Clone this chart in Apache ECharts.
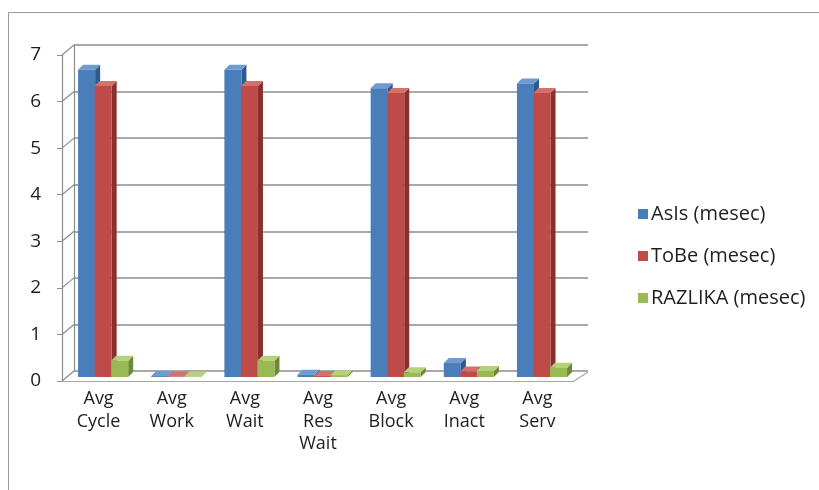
<!DOCTYPE html>
<html>
<head>
<meta charset="utf-8">
<script src="https://cdn.jsdelivr.net/npm/echarts@6/dist/echarts.min.js"></script>
<style>
  html, body { margin: 0; padding: 0; background: #fff; }
  #chart { width: 819px; height: 490px; }
</style>
</head>
<body>
<div id="chart"></div>
<script>
// Process time comparison, in months
const categories = ['Avg\nCycle', 'Avg\nWork', 'Avg\nWait', 'Avg\nRes\nWait', 'Avg\nBlock', 'Avg\nInact', 'Avg\nServ'];
const asIsValues = [6.6, 0.02, 6.6, 0.05, 6.2, 0.3, 6.3];
const toBeValues = [6.25, 0.01, 6.25, 0.02, 6.1, 0.12, 6.1];
const razlikaValues = [0.35, 0.01, 0.35, 0.04, 0.1, 0.13, 0.2];
const seriesNames = ['AsIs (mesec)', 'ToBe (mesec)', 'RAZLIKA (mesec)'];
const yTicks = [0, 1, 2, 3, 4, 5, 6, 7];

const FONT = 'Open Sans';
const palette = [
  { front: '#4A7EBB', side: '#2F5A8E', top: '#6F9BD2' },
  { front: '#BE4B48', side: '#8A2F2D', top: '#D4706D' },
  { front: '#98B954', side: '#6E8A36', top: '#B5D27A' }
];
// depth of the floor (back wall offset) and of each column
const WALL_DX = 12, WALL_DY = -10;
const BAR_DX = 5, BAR_DY = -5;

function barRenderer(seriesIdx) {
  const c = palette[seriesIdx];
  return function (params, api) {
    const idx = api.value(0);
    const val = api.value(1);
    const base = api.coord([idx, 0]);
    const topPt = api.coord([idx, val]);
    const band = api.size([1, 0])[0];
    const w = band * 0.233;
    const x0 = base[0] - band / 2 + band * 0.22 + seriesIdx * band * 0.226;
    const yb = base[1] - 4;
    const yt = topPt[1] - 4;
    const x1 = x0 + w;
    return {
      type: 'group',
      children: [
        { type: 'polygon', shape: { points: [[x1, yb], [x1 + BAR_DX, yb + BAR_DY], [x1 + BAR_DX, yt + BAR_DY], [x1, yt]] },
          style: { fill: c.side } },
        { type: 'polygon', shape: { points: [[x0, yt], [x1, yt], [x1 + BAR_DX, yt + BAR_DY], [x0 + BAR_DX, yt + BAR_DY]] },
          style: { fill: c.top } },
        { type: 'rect', shape: { x: x0, y: yt, width: w, height: Math.max(yb - yt, 0) },
          style: { fill: c.front } }
      ]
    };
  };
}

function toData(values) {
  return values.map((v, i) => [i, v]);
}

// left wall edges and right floor edge
function frameRenderer(params, api) {
  const cs = params.coordSys;
  const v = api.value(0);
  const kind = api.value(1);
  if (kind === 1) {
    const p = api.coord([categories.length - 1, 0]);
    const xr = cs.x + cs.width;
    return { type: 'line', shape: { x1: xr, y1: p[1], x2: xr + WALL_DX + 2, y2: p[1] + WALL_DY + 1 },
      style: { stroke: '#a6a6a6', lineWidth: 1.2 } };
  }
  const p = api.coord([0, v]);
  return { type: 'line', shape: { x1: cs.x, y1: p[1], x2: cs.x + WALL_DX, y2: p[1] + WALL_DY },
    style: { stroke: '#8c8c8c', lineWidth: 1.2 } };
}

const chart = echarts.init(document.getElementById('chart'), null, { renderer: 'canvas' });

chart.setOption({
  animation: false,
  backgroundColor: '#fff',
  textStyle: { fontFamily: FONT },
  graphic: [{
    type: 'rect', silent: true, z: -10,
    shape: { x: 8.5, y: 12.5, width: 900, height: 600 },
    style: { fill: 'none', stroke: '#9a9a9a', lineWidth: 1 }
  }],
  legend: {
    orient: 'vertical',
    left: 633,
    top: 197,
    itemWidth: 10,
    itemHeight: 10,
    itemGap: 18,
    icon: 'rect',
    data: seriesNames,
    textStyle: { fontFamily: FONT, fontSize: 20, color: '#1e1e1e', lineHeight: 24, padding: [0, 0, 0, -2] }
  },
  grid: [
    { left: 62, right: 245, top: 55, bottom: 109 },
    { left: 62 + WALL_DX, right: 245 - WALL_DX - 2, top: 55 + WALL_DY, bottom: 109 - WALL_DY }
  ],
  xAxis: [
    {
      gridIndex: 0, type: 'category', data: categories, boundaryGap: true,
      axisLine: { lineStyle: { color: '#a6a6a6', width: 1.2 } },
      axisTick: { length: 6, lineStyle: { color: '#a6a6a6' } },
      axisLabel: { fontFamily: FONT, fontSize: 18, color: '#1e1e1e', lineHeight: 22.5, margin: 7 }
    },
    { gridIndex: 1, type: 'category', data: categories, show: false }
  ],
  yAxis: [
    {
      gridIndex: 0, type: 'value', min: 0, max: 7, interval: 1,
      axisLine: { show: true, lineStyle: { color: '#8c8c8c', width: 1.2 } },
      axisTick: { show: true, length: 5, lineStyle: { color: '#8c8c8c' } },
      axisLabel: { fontFamily: FONT, fontSize: 19, color: '#1e1e1e', margin: 21, formatter: v => String(v) },
      splitLine: { show: false }
    },
    {
      gridIndex: 1, type: 'value', min: 0, max: 7, interval: 1,
      axisLine: { show: true, lineStyle: { color: '#8c8c8c', width: 1.2 } },
      axisTick: { show: false }, axisLabel: { show: false },
      splitLine: { show: true, lineStyle: { color: '#8c8c8c', width: 1.6 } }
    }
  ],
  series: [
    {
      type: 'custom', name: '_frame', xAxisIndex: 0, yAxisIndex: 0, silent: true, z: 1,
      renderItem: frameRenderer,
      data: yTicks.map(v => [v, 0]).concat([[0, 1]])
    },
    { type: 'custom', name: seriesNames[0], xAxisIndex: 0, yAxisIndex: 0, z: 2,
      itemStyle: { color: palette[0].front }, renderItem: barRenderer(0), data: toData(asIsValues) },
    { type: 'custom', name: seriesNames[1], xAxisIndex: 0, yAxisIndex: 0, z: 3,
      itemStyle: { color: palette[1].front }, renderItem: barRenderer(1), data: toData(toBeValues) },
    { type: 'custom', name: seriesNames[2], xAxisIndex: 0, yAxisIndex: 0, z: 4,
      itemStyle: { color: palette[2].front }, renderItem: barRenderer(2), data: toData(razlikaValues) }
  ]
});
</script>
</body>
</html>
